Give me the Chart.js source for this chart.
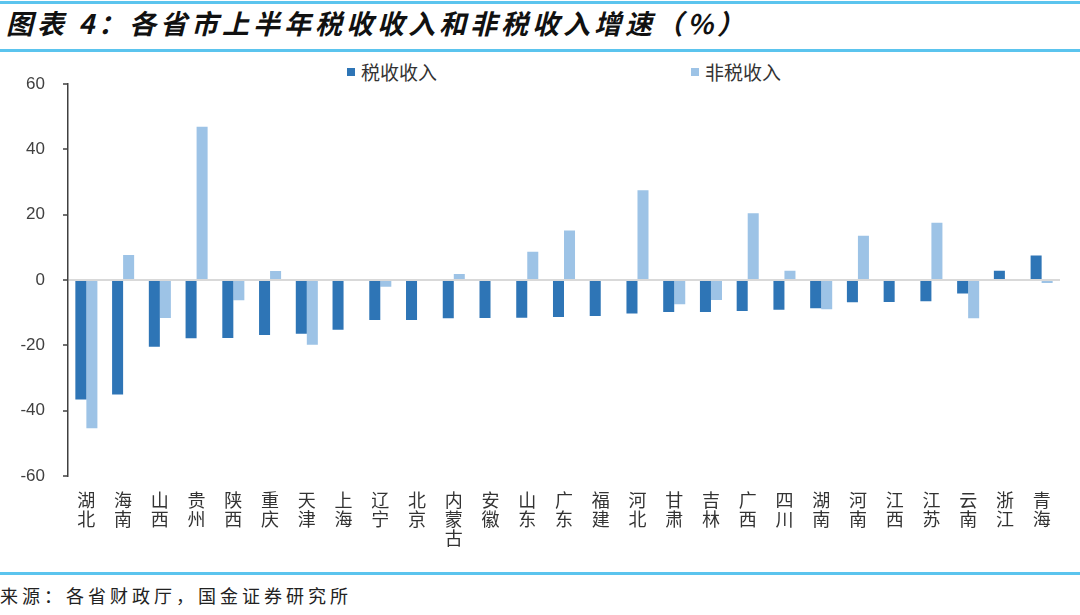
<!DOCTYPE html>
<html>
<head>
<meta charset="utf-8">
<script src="https://cdn.jsdelivr.net/npm/chart.js@4.4.0/dist/chart.umd.min.js"></script>
<style>
  html, body { margin: 0; padding: 0; background: #fff; }
  body { width: 1080px; height: 615px; position: relative; overflow: hidden; font-family: "Noto Sans CJK SC", sans-serif; }
  .rule { position: absolute; left: 0; width: 1080px; height: 3px; background: #5bc4ee; }
  #title { position: absolute; left: 6px; top: 3px; font-size: 27px; font-weight: bold; font-style: italic; letter-spacing: 4px; color: #111; white-space: nowrap; }
  #source { position: absolute; left: 0; top: 582px; font-size: 18px; letter-spacing: 4px; color: #222; white-space: nowrap; }
  .leg { position: absolute; top: 58px; font-size: 19px; color: #333; white-space: nowrap; }
  .leg i { display: inline-block; width: 8px; height: 8px; margin-right: 6px; vertical-align: 4px; }
  #wrap { position: absolute; left: 0; top: 56px; width: 1080px; height: 510px; }
</style>
</head>
<body>
<div class="rule" style="top:1px"></div>
<div id="title">图表 4：各省市上半年税收收入和非税收入增速（%）</div>
<div class="rule" style="top:49px"></div>
<div class="leg" style="left:347px"><i id="sw0"></i><span id="lg0"></span></div>
<div class="leg" style="left:691px"><i id="sw1"></i><span id="lg1"></span></div>
<div id="wrap"><canvas id="chart"></canvas></div>
<div class="rule" style="top:572px"></div>
<div id="source">来源：各省财政厅，国金证券研究所</div>
<script>
const provinces = ["湖北", "海南", "山西", "贵州", "陕西", "重庆", "天津", "上海", "辽宁", "北京", "内蒙古", "安徽", "山东",
  "广东", "福建", "河北", "甘肃", "吉林", "广西", "四川", "湖南", "河南", "江西", "江苏", "云南", "浙江", "青海"];
const taxRevenue = [-36.6, -35.0, -20.4, -17.8, -17.7, -16.8, -16.4, -15.2, -12.2, -12.2, -11.7, -11.6, -11.5,
  -11.3, -11.0, -10.2, -9.8, -9.8, -9.5, -9.1, -8.6, -6.8, -6.7, -6.5, -4.1, 2.9, 7.5];
const nonTaxRevenue = [-45.4, 7.7, -11.6, 47.0, -6.2, 2.8, -19.8, 0, -2.0, 0, 1.9, 0, 8.7,
  15.2, 0, 27.5, -7.4, -6.1, 20.5, 2.9, -8.9, 13.6, 0, 17.6, -11.7, 0, -0.9];
const seriesNames = ["税收收入", "非税收入"];
const seriesColors = ["#2e75b6", "#9dc3e6"];
const yTicks = [-60, -40, -20, 0, 20, 40, 60];

(function () {
  seriesNames.forEach((n, i) => {
    document.getElementById("lg" + i).textContent = n;
    document.getElementById("sw" + i).style.background = seriesColors[i];
  });

  const ctx = document.getElementById("chart").getContext("2d");
  new Chart(ctx, {
    type: "bar",
    data: {
      labels: provinces.map((p) => p.split("")),
      datasets: [
        { label: seriesNames[0], data: taxRevenue, backgroundColor: seriesColors[0] },
        { label: seriesNames[1], data: nonTaxRevenue, backgroundColor: seriesColors[1] },
      ],
    },
    options: {
      responsive: true,
      maintainAspectRatio: false,
      animation: false,
      layout: { padding: { top: 4, right: 20, left: 0, bottom: 0 } },
      datasets: { bar: { categoryPercentage: 0.6, barPercentage: 1, borderWidth: 0 } },
      plugins: { legend: { display: false }, tooltip: { enabled: false } },
      scales: {
        x: {
          grid: { display: false, drawTicks: false },
          border: { display: false },
          ticks: {
            autoSkip: false,
            maxRotation: 0,
            padding: 15,
            color: "#333",
            font: { family: "'Noto Sans CJK SC'", size: 18, lineHeight: 1.05 },
          },
          afterFit: (s) => { s.height = 90; },
        },
        y: {
          min: yTicks[0],
          max: yTicks[yTicks.length - 1],
          afterBuildTicks: (s) => { s.ticks = yTicks.map((v) => ({ value: v })); },
          grid: {
            color: (c) => (c.tick && c.tick.value === 0 ? "#d9d9d9" : "rgba(0,0,0,0)"),
            lineWidth: 2,
            tickColor: "#404040",
            tickLength: 5,
            tickWidth: 1.5,
          },
          border: { display: true, color: "#404040", width: 1.5 },
          ticks: {
            padding: 18,
            color: "#404040",
            font: { family: "'Liberation Sans'", size: 17 },
          },
          afterFit: (s) => { s.width = 68; },
        },
      },
    },
  });
})();
</script>
</body>
</html>
